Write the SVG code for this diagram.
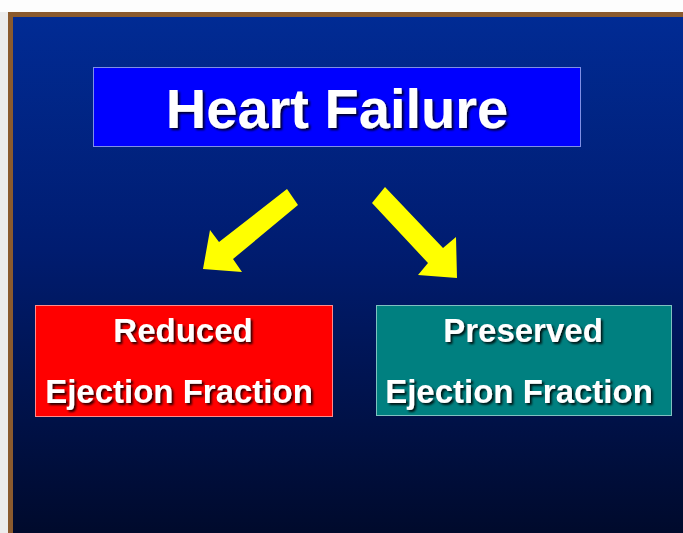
<svg xmlns="http://www.w3.org/2000/svg" width="683" height="533" viewBox="0 0 683 533">
  <defs>
    <linearGradient id="bg" x1="0" y1="0" x2="0" y2="1">
      <stop offset="0" stop-color="#012b94"/>
      <stop offset="0.45" stop-color="#001c70"/>
      <stop offset="1" stop-color="#000a2c"/>
    </linearGradient>
    <filter id="shadow" x="-10%" y="-20%" width="130%" height="150%">
      <feDropShadow dx="2" dy="2" stdDeviation="0.8" flood-color="#000000" flood-opacity="0.85"/>
    </filter>
    <style>
      .lbl { font-family: "Liberation Sans", Arial, sans-serif; font-weight: bold; fill: #ffffff; text-anchor: middle; filter: url(#shadow); }
      .arrow { fill: #ffff00; }
    </style>
  </defs>

  <rect x="0" y="0" width="683" height="533" fill="#fdfdfd"/>
  <rect x="0" y="12" width="8" height="521" fill="#ececec"/>
  <rect x="8" y="12" width="675" height="521" fill="#8a5a2e"/>
  <rect x="13" y="17" width="670" height="516" fill="url(#bg)"/>

  <g id="heart-failure">
    <rect x="93.5" y="67.5" width="487" height="79" fill="#0000ff" stroke="#7f8fe6" stroke-width="1"/>
    <text class="lbl" x="337" y="128" font-size="56">Heart Failure</text>
  </g>

  <g id="reduced-ef">
    <rect x="35.5" y="305.5" width="297" height="111" fill="#ff0000" stroke="#ff8a8a" stroke-width="1"/>
    <text class="lbl" x="183" y="342" font-size="33">Reduced</text>
    <text class="lbl" x="179" y="403" font-size="33">Ejection Fraction</text>
  </g>

  <g id="preserved-ef">
    <rect x="376.5" y="305.5" width="295" height="110" fill="#008080" stroke="#7fc0c0" stroke-width="1"/>
    <text class="lbl" x="523" y="342" font-size="33">Preserved</text>
    <text class="lbl" x="519" y="403" font-size="33">Ejection Fraction</text>
  </g>

  <g id="connectors">
    <polygon class="arrow" points="287,189 298,205 233,259 242,272 203,269 210,230 219,242"/>
    <polygon class="arrow" points="385,187 443,248 456,237 457,278 418,275 428,263 372,203"/>
  </g>
</svg>
